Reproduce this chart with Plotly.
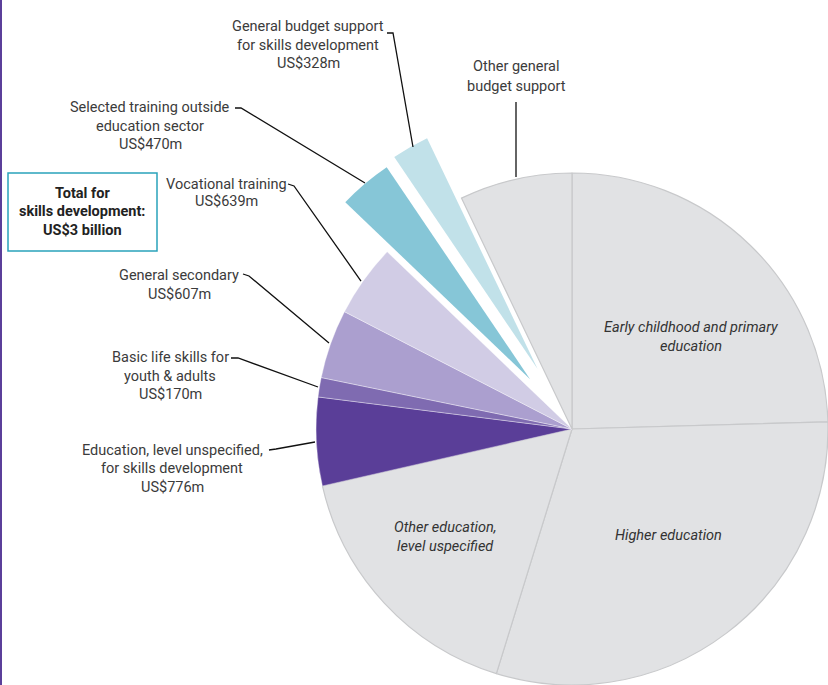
import math
import plotly.graph_objects as go

W, H = 828, 685

# ---- data (US$ millions) ----
categories = [
    "Early childhood and primary education",
    "Higher education",
    "Other education, level uspecified",
    "Education, level unspecified, for skills development",
    "Basic life skills for youth & adults",
    "General secondary",
    "Vocational training",
    "Selected training outside education sector",
    "General budget support for skills development",
    "Other general budget support",
]
values_usd_m = [3420, 4210, 2320, 776, 170, 607, 639, 470, 328, 990]
slice_colors = ["#e1e2e4", "#e1e2e4", "#e1e2e4", "#5a3e98", "#7f6bb1",
                "#ab9fcf", "#d1cce5", "#86c6d7", "#c1e1e9", "#e1e2e4"]
pull_fraction = [0, 0, 0, 0, 0, 0, 0, 0.254, 0.27, 0]

# ---- geometry ----
CX, CY, R = 572, 429, 256
TRANSP = "rgba(0,0,0,0)"
FONT = "Roboto, Liberation Sans, Arial, sans-serif"
TXT = "#3b3b3b"


def px_domain(cx, cy, r):
    x0, x1 = max(0, (cx - r) / W), min(1, (cx + r) / W)
    y0, y1 = max(0, 1 - (cy + r) / H), min(1, 1 - (cy - r) / H)
    return dict(x=[x0, x1], y=[y0, y1])


def line_props(cols):
    lc, lw = [], []
    for c in cols:
        if c == TRANSP:
            lc.append("rgba(0,0,0,0)"); lw.append(0)
        elif c == "#e1e2e4":
            lc.append("#c8c9cb"); lw.append(1.2)
        else:
            lc.append("rgba(255,255,255,0.6)"); lw.append(0.6)
    return lc, lw


total = sum(values_usd_m)
fig = go.Figure()

main_cols = [TRANSP if p > 0 else c for c, p in zip(slice_colors, pull_fraction)]
lc, lw = line_props(main_cols)
fig.add_trace(go.Pie(
    labels=categories, values=values_usd_m, sort=False, direction="clockwise",
    rotation=0, textinfo="none", hoverinfo="skip", showlegend=False,
    marker=dict(colors=main_cols, line=dict(color=lc, width=lw)),
    domain=px_domain(CX, CY, R),
))

# exploded slices: same pie, only that slice shown, centre moved along bisector
cum = 0
for i, v in enumerate(values_usd_m):
    mid = 90 - 360 * (cum + v / 2) / total
    cum += v
    if pull_fraction[i] <= 0:
        continue
    d = pull_fraction[i] * R
    cx = CX + d * math.cos(math.radians(mid))
    cy = CY - d * math.sin(math.radians(mid))
    cols = [slice_colors[j] if j == i else TRANSP for j in range(len(values_usd_m))]
    fig.add_trace(go.Pie(
        labels=categories, values=values_usd_m, sort=False, direction="clockwise",
        rotation=0, textinfo="none", hoverinfo="skip", showlegend=False,
        marker=dict(colors=cols, line=dict(color="rgba(0,0,0,0)", width=0)),
        domain=px_domain(cx, cy, R),
    ))


def P(x, y):
    return x / W, 1 - y / H


annotations = []


def add_lines(lines, cx, ys, size=14.5, italic=False, bold=False, color=TXT):
    for t, y in zip(lines, ys):
        x, yy = P(cx, y)
        annotations.append(dict(
            text=t, x=x, y=yy, xref="paper", yref="paper", showarrow=False,
            xanchor="center", yanchor="middle",
            font=dict(family=FONT, size=size, color=color,
                      style="italic" if italic else "normal",
                      weight="bold" if bold else "normal"),
        ))


# outside labels
add_lines(["General budget support", "for skills development", "US$328m"], 308, [26, 45, 63])
add_lines(["Selected training outside", "education sector", "US$470m"], 150, [108, 127, 145])
add_lines(["Vocational training", "US$639m"], 226, [184, 202])
add_lines(["General secondary", "US$607m"], 179, [275, 294])
add_lines(["Basic life skills for", "youth & adults", "US$170m"], 170, [357, 376, 394])
add_lines(["Education, level unspecified,", "for skills development", "US$776m"], 172, [450, 468, 487])
add_lines(["Other general", "budget support"], 516, [67, 86])

# inside labels
add_lines(["Early childhood and primary", "education"], 691, [327, 346], italic=True, color="#333333")
add_lines(["Higher education"], 668, [535], italic=True, color="#333333")
add_lines(["Other education,", "level uspecified"], 446, [527, 546], italic=True, color="#333333")

# total box text
add_lines(["Total for", "skills development:", "US$3 billion"], 82, [193, 212, 231],
          size=14.5, bold=True, color="#222222")

# leader lines (pixel coords)
leaders = [
    [(387, 33), (393, 33), (413, 147)],
    [(235, 108), (241, 108), (365, 183)],
    [(288, 184), (294, 186), (361, 281)],
    [(243, 274), (249, 276), (329, 343)],
    [(231, 358), (238, 358), (318, 387)],
    [(269, 450), (276, 449), (315, 442)],
    [(516, 102), (516, 177)],
]
shapes = []
for pts in leaders:
    path = "M " + " L ".join("%.5f,%.5f" % P(x, y) for x, y in pts)
    shapes.append(dict(type="path", path=path, xref="paper", yref="paper",
                       line=dict(color="#111111", width=1.3)))

# total box
bx0, by0 = P(8, 173)
bx1, by1 = P(157, 251)
shapes.append(dict(type="rect", xref="paper", yref="paper", x0=bx0, y0=by1, x1=bx1, y1=by0,
                   line=dict(color="#2aa3bb", width=1.5), fillcolor="rgba(0,0,0,0)"))
# left border line
shapes.append(dict(type="line", xref="paper", yref="paper", x0=1 / W, x1=1 / W, y0=0, y1=1,
                   line=dict(color="#5b3f9a", width=2)))

fig.update_layout(
    width=W, height=H, margin=dict(l=0, r=0, t=0, b=0),
    paper_bgcolor="white", plot_bgcolor="white", showlegend=False,
    annotations=annotations, shapes=shapes,
)

fig.write_html(
    "out.html",
    config={"displayModeBar": False, "staticPlot": True},
    post_script="document.body.style.margin='0';document.body.style.padding='0';"
                "document.body.style.overflow='hidden';",
)
